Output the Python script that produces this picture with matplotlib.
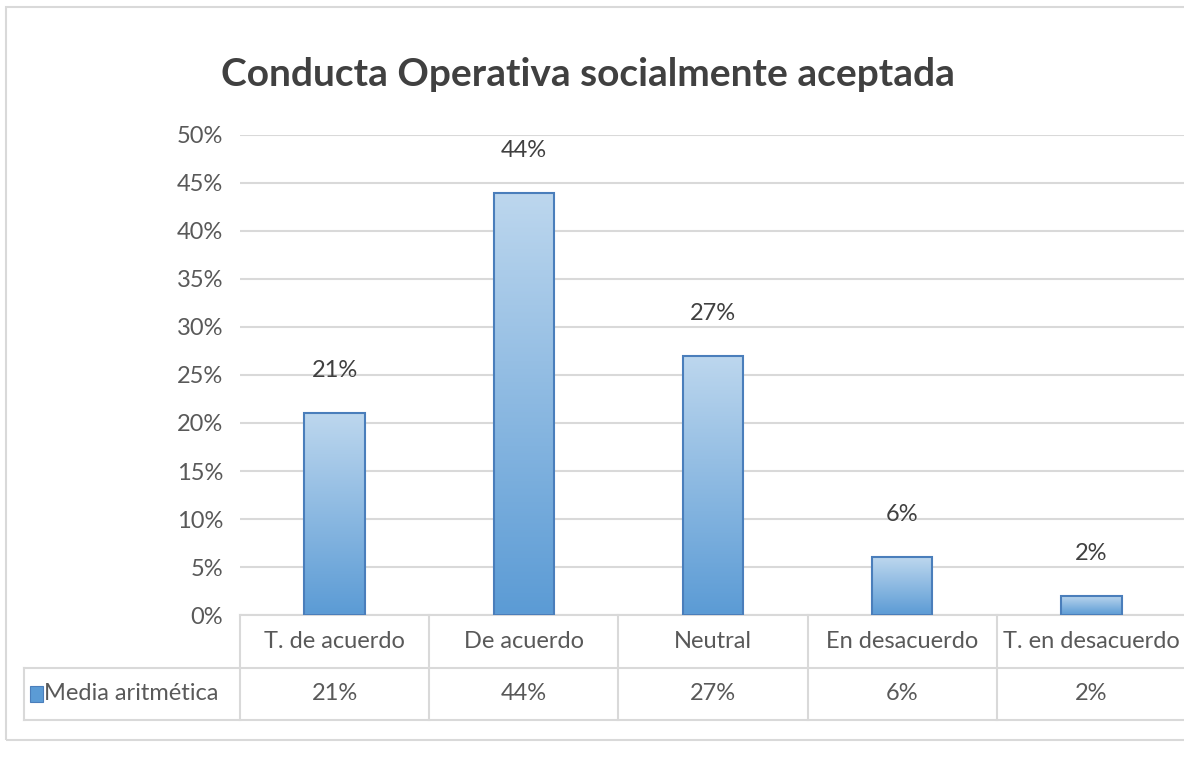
import matplotlib.pyplot as plt
import matplotlib.patches as mpatches
import matplotlib.transforms as mtransforms
import numpy as np

plt.rcParams['font.family'] = ['Lato', 'DejaVu Sans']

categories = ['T. de acuerdo', 'De acuerdo', 'Neutral', 'En desacuerdo', 'T. en desacuerdo']
values = [0.21, 0.44, 0.27, 0.06, 0.02]
series_name = 'Media aritmética'
title = 'Conducta Operativa socialmente aceptada'
yticks = [0, 0.05, 0.10, 0.15, 0.20, 0.25, 0.30, 0.35, 0.40, 0.45, 0.50]

text_col = '#595959'
grid_col = '#d9d9d9'
top_col = '#bdd7ee'
bot_col = '#5b9bd5'
edge_col = '#4a7ebb'
fs = 17

fig = plt.figure(figsize=(11.84, 7.69), dpi=100)
fig.patch.set_facecolor('white')

# outer chart border
fig.add_artist(mpatches.Rectangle((6 / 1184, 29 / 769), 1.2, 733 / 769,
                                  transform=fig.transFigure, fill=False,
                                  edgecolor=grid_col, lw=1.5))

ax = fig.add_axes([240 / 1184, 154 / 769, 946 / 1184, 480 / 769])
for s in ax.spines.values():
    s.set_visible(False)
ax.set_yticks(yticks)
ax.set_yticklabels([f'{int(round(v * 100))}%' for v in yticks], fontsize=fs, color=text_col)
ax.tick_params(axis='y', length=0, pad=12)
ax.set_xticks([])
ax.yaxis.grid(True, color=grid_col, lw=1.5)
ax.set_axisbelow(True)

# bars with a vertical gradient fill
grad = np.linspace(0, 1, 256).reshape(-1, 1)
cmap = plt.matplotlib.colors.LinearSegmentedColormap.from_list('g', [bot_col, top_col])
bars = ax.bar(range(len(values)), values, width=0.32, color='none',
              edgecolor=edge_col, lw=1.5, zorder=3)
for b, v in zip(bars, values):
    x0 = b.get_x()
    im = ax.imshow(grad, cmap=cmap, origin='lower', aspect='auto',
                   extent=[x0, x0 + b.get_width(), 0, v], zorder=2)
    im.set_clip_path(b)
    ax.annotate(f'{int(round(v * 100))}%', (b.get_x() + b.get_width() / 2, v),
                xytext=(0, 23), textcoords='offset points', ha='center', va='bottom',
                fontsize=fs, color='#404040')
ax.set_xlim(-0.5, len(categories) - 0.5)
ax.set_ylim(0, 0.5)

# data table under the plot
trans = mtransforms.blended_transform_factory(ax.transData, ax.transAxes)
row1 = -0.110
row2 = -0.219
left = -1.64
right = len(categories) - 0.5
kw = dict(transform=trans, color=grid_col, lw=1.5, clip_on=False)
ax.plot([-0.5, right], [0, 0], **kw)
ax.plot([left, right], [row1, row1], **kw)
ax.plot([left, right], [row2, row2], **kw)
ax.plot([left, left], [row1, row2], **kw)
for i in range(len(categories) + 1):
    ax.plot([i - 0.5, i - 0.5], [0, row2], **kw)
for i, (c, v) in enumerate(zip(categories, values)):
    ax.text(i, row1 / 2, c, transform=trans, ha='center', va='center',
            fontsize=fs, color=text_col)
    ax.text(i, (row1 + row2) / 2, f'{int(round(v * 100))}%', transform=trans,
            ha='center', va='center', fontsize=fs, color=text_col)
ax.add_patch(mpatches.Rectangle((left + 0.03, (row1 + row2) / 2 - 0.017), 0.068, 0.034,
                                transform=trans, facecolor=bot_col, edgecolor=edge_col,
                                lw=0.8, clip_on=False))
ax.text(left + 0.105, (row1 + row2) / 2, series_name, transform=trans, ha='left',
        va='center', fontsize=fs, color=text_col)

fig.text(588 / 1184, 1 - 74 / 769, title, ha='center', va='center', fontsize=28,
         fontweight='bold', color='#404040')

fig.savefig('out.png', dpi=100)
